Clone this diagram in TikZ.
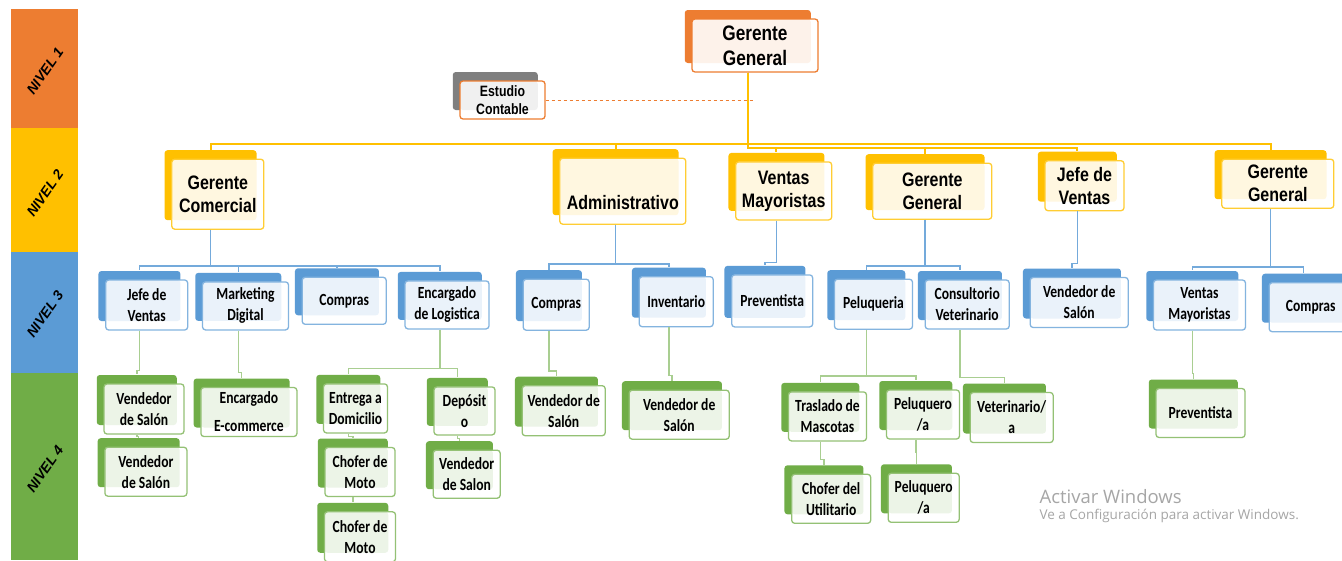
\documentclass[tikz,border=0pt]{standalone}
\usepackage{fontspec}
\setmainfont{Carlito}[FakeStretch=0.8]
\newfontfamily\arialn{Liberation Sans}[FakeStretch=0.82]
\newfontfamily\arial{Liberation Sans}
\newfontfamily\segoe{Open Sans}
\usetikzlibrary{shadows}

\definecolor{nOr}{HTML}{ED7D31}
\definecolor{nYe}{HTML}{FFC000}
\definecolor{nBl}{HTML}{5B9BD5}
\definecolor{nGr}{HTML}{70AD47}
\definecolor{nGy}{HTML}{7F7F7F}

\tikzset{
  tier/.style n args={3}{rounded corners=3pt, line width=1.3pt, inner sep=0pt, align=center,
    fill=white, draw=#2,
    general shadow={fill=#1, draw=none, shadow xshift=-7.25pt, shadow yshift=9pt},
    path picture={\fill[#3] (path picture bounding box.north west) rectangle ([shift={(-7.25pt,9pt)}]path picture bounding box.south east);}},
  sz/.style 2 args={minimum width=#1pt, minimum height=#2pt},
  lvone/.style={tier={nOr}{nOr}{nOr!10}, font=\arialn\bfseries\fontsize{21}{25}\selectfont},
  studio/.style={tier={nGy}{nOr}{black!6}, font=\arialn\bfseries\fontsize{15}{18}\selectfont},
  lvtwo/.style={tier={nYe}{nYe!80}{nYe!12}, font=\arialn\bfseries\fontsize{19.5}{23}\selectfont},
  lvthree/.style={tier={nBl}{nBl!75}{nBl!13}, font=\bfseries\fontsize{17}{21}\selectfont},
  lvfour/.style={tier={nGr}{nGr!75}{nGr!13}, font=\bfseries\fontsize{17}{21}\selectfont},
  lvtag/.style={rotate=55, font=\arial\bfseries\itshape\fontsize{14}{14}\selectfont},
  bt/.style={xshift=-7.25pt},
  tp/.style={xshift=-7.25pt, yshift=9pt},
  ycon/.style={draw=nYe, line width=2pt},
  bcon/.style={draw=nBl!85, line width=1.5pt},
  gcon/.style={draw=nGr!60, line width=1.5pt},
}

\begin{document}
\begin{tikzpicture}[x=1pt, y=-1pt]
  \clip (0,0) rectangle (1342,560);
  \fill[white] (0,0) rectangle (1342,560);

  % niveles
  \fill[nOr] (11,9) rectangle (78,128);
  \fill[nYe] (11,128) rectangle (78,252);
  \fill[nBl] (11,252) rectangle (78,373);
  \fill[nGr] (11,373) rectangle (78,560);
  \node[lvtag] (t1) at (45,71) {NIVEL 1};
  \node[lvtag] (t2) at (45,193) {NIVEL 2};
  \node[lvtag] (t3) at (45,314) {NIVEL 3};
  \node[lvtag] (t4) at (45,469) {NIVEL 4};

  % nivel 1
  \node[lvone, sz={126}{53}] (gg) at (755,45.5) {Gerente\\General};
  \node[studio, sz={85}{38}] (ec) at (502.5,100) {Estudio\\Contable};

  % nivel 2
  \node[lvtwo, sz={92}{70}] (gc) at (217.8,194.2) {Gerente\\Comercial};
  \node[lvtwo, sz={126}{66}, text height=40pt, text depth=3pt] (adm) at (622.8,191.2) {Administrativo};
  \node[lvtwo, sz={96}{58}] (vm) at (783.7,190.9) {Ventas\\Mayoristas};
  \node[lvtwo, sz={119}{56}] (gg2) at (932.3,191.2) {Gerente\\General};
  \node[lvtwo, sz={79}{50}] (jv2) at (1084.5,185.7) {Jefe de\\Ventas};
  \node[lvtwo, sz={112}{49}] (gg3) at (1277.8,183.7) {Gerente\\General};

  % nivel 3
  \node[lvthree, sz={82}{50}] (jv) at (146.7,305) {Jefe de\\Ventas};
  \node[lvthree, sz={86}{48}] (md) at (245.5,305.9) {Marketing\\Digital};
  \node[lvthree, sz={84}{47}] (cp) at (344.2,300.8) {Compras};
  \node[lvthree, sz={84}{48}] (el) at (447,304.9) {Encargado\\de Logistica};
  \node[lvthree, sz={66}{51}] (cpa) at (556.2,304.7) {Compras};
  \node[lvthree, sz={74}{50}] (inv) at (676.2,301.7) {Inventario};
  \node[lvthree, sz={81}{52}] (prv) at (772.2,300.9) {Preventista};
  \node[lvthree, sz={78}{50}] (pel) at (873.5,304.2) {Peluqueria};
  \node[lvthree, sz={84}{49}] (cv) at (967.2,304.5) {Consultorio\\Veterinario};
  \node[lvthree, sz={98}{50}] (vds) at (1079.2,302.5) {Vendedor de\\Salón};
  \node[lvthree, sz={92}{50}] (vm3) at (1199.5,305) {Ventas\\Mayoristas};
  \node[lvthree, sz={83}{49}] (cp3) at (1310.7,307.2) {Compras};

  % nivel 4
  \node[lvfour, sz={80}{50}] (vs1) at (144,409) {Vendedor\\de Salón};
  \node[lvfour, sz={82}{49}] (vs2) at (145.9,471.7) {Vendedor\\de Salón};
  \node[lvfour, sz={96}{49}] (ecm) at (248.9,412) {Encargado\\[7pt]E-commerce};
  \node[lvfour, sz={64}{49}] (ed) at (355.5,408.4) {Entrega a\\Domicilio};
  \node[lvfour, sz={70}{49}] (cm1) at (360,472) {Chofer de\\Moto};
  \node[lvfour, sz={71}{50}] (cm2) at (360,536.8) {Chofer de\\Moto};
  \node[lvfour, sz={61}{48}] (dep) at (464.5,410.9) {Depósit\\o};
  \node[lvfour, sz={67}{48}] (vsd) at (466.7,474.2) {Vendedor\\de Salon};
  \node[lvfour, sz={83}{50}] (vsa) at (563.7,410.7) {Vendedor de\\Salón};
  \node[lvfour, sz={100}{49}] (vsi) at (679.2,414.7) {Vendedor de\\Salón};
  \node[lvfour, sz={78}{49}] (tm) at (827.5,416.4) {Traslado de\\Mascotas};
  \node[lvfour, sz={73}{49}] (pq1) at (923,414.5) {Peluquero\\/a};
  \node[lvfour, sz={83}{50}] (vet) at (1011.7,417.5) {Veterinario/\\a};
  \node[lvfour, sz={79}{49}] (cu) at (831.2,498.8) {Chofer del\\Utilitario};
  \node[lvfour, sz={71}{49}] (pq2) at (923.7,497.8) {Peluquero\\/a};
  \node[lvfour, sz={89}{49}] (prv3) at (1200.5,413) {Preventista};

  % conectores
  \draw[nOr, dashed, line width=0.9pt] (ec.east) -- (ec.east -| gg.south);
  \foreach \c in {gc,adm,gg3} \draw[ycon] ([bt]gg.south) -- ++(0,71) -| ([tp]\c.north);
  \foreach \c in {vm,gg2,jv2} \draw[ycon] ([bt]gg.south) -- ++(0,75) -| ([tp]\c.north);

  \foreach \c in {jv,md,cp,el} \draw[bcon] ([bt]gc.south) -- ++(0,36) -| ([tp]\c.north);
  \foreach \c in {cpa,inv} \draw[bcon] ([bt]adm.south) -- ++(0,39) -| ([tp]\c.north);
  \draw[bcon] ([bt]vm.south) -- ++(0,42) -| ([tp]prv.north);
  \foreach \c in {pel,cv} \draw[bcon] ([bt]gg2.south) -- ++(0,46) -| ([tp]\c.north);
  \draw[bcon] ([bt]jv2.south) -- ++(0,52) -| ([tp]vds.north);
  \foreach \c in {vm3,cp3} \draw[bcon] ([bt]gg3.south) -- ++(0,58) -| ([tp]\c.north);

  \draw[gcon] ([bt]jv.south) -- ++(0,40) -| ([tp]vs1.north);
  \draw[gcon] ([bt]vs1.south) -- ++(0,2) -| ([tp]vs2.north);
  \draw[gcon] ([bt]md.south) -- ++(0,42) -| ([tp]ecm.north);
  \foreach \c in {ed,dep} \draw[gcon] ([bt]el.south) -- ++(0,39) -| ([tp]\c.north);
  \draw[gcon] ([bt]ed.south) -- ++(0,3) -| ([tp]cm1.north);
  \draw[gcon] ([bt]cm1.south) -- ++(0,3) -| ([tp]cm2.north);
  \draw[gcon] ([bt]dep.south) -- ++(0,3) -| ([tp]vsd.north);
  \draw[gcon] ([bt]cpa.south) -- ++(0,40) -| ([tp]vsa.north);
  \draw[gcon] ([bt]inv.south) -- ++(0,48) -| ([tp]vsi.north);
  \foreach \c in {tm,pq1} \draw[gcon] ([bt]pel.south) -- ++(0,46) -| ([tp]\c.north);
  \draw[gcon] ([bt]cv.south) -- ++(0,48) -| ([tp]vet.north);
  \draw[gcon] ([bt]tm.south) -- ++(0,18) -| ([tp]cu.north);
  \draw[gcon] ([bt]pq1.south) -- ++(0,13) -| ([tp]pq2.north);
  \draw[gcon] ([bt]vm3.south) -- ++(0,43) -| ([tp]prv3.north);

  % marca de agua
  \node[anchor=base west, text=black!35, font=\segoe\fontsize{18.5}{18}\selectfont] (wm1) at (1036,503) {Activar Windows};
  \node[anchor=base west, text=black!35, font=\segoe\fontsize{13.5}{14}\selectfont] (wm2) at (1036,519) {Ve a Configuración para activar Windows.};
\end{tikzpicture}
\end{document}
